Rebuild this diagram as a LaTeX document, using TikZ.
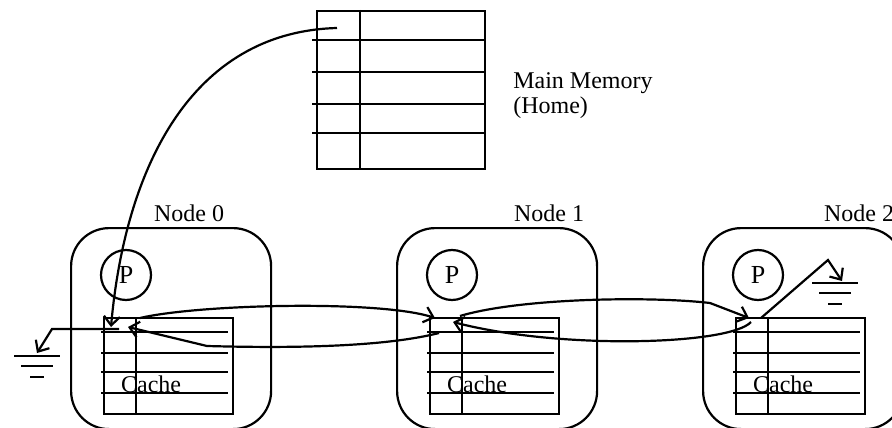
\documentclass[tikz,border=0pt]{standalone}
\usepackage{fontspec}
\setmainfont{Liberation Serif}
\usetikzlibrary{arrows.meta,positioning}

\tikzset{
  nodebox/.style={draw,rounded corners=38pt,minimum width=200pt,minimum height=201pt,anchor=north west},
  cachebox/.style={draw,minimum width=129pt,minimum height=96pt,anchor=north west},
  proc/.style={draw,circle,minimum size=50pt},
}

\begin{document}
\begin{tikzpicture}[x=1pt,y=-1pt,line width=2.2pt,
  every node/.style={inner sep=0pt,font=\fontsize{24}{25}\selectfont},
  >={Straight Barb[length=9pt,width=16pt]}]
	\useasboundingbox (0,0) rectangle (892,428);
	% main memory
	\node[draw,minimum width=168pt,minimum height=158pt,anchor=north west] (mem) at (316,10) {};
	\draw (360,10) -- (360,168);
	\foreach \y in {40,72,104,133}
		\draw (312,\y) -- (484,\y);
	\node[right=26pt of mem,yshift=-6pt,align=left] (memlbl) {Main Memory\\(Home)};
	% the three nodes
	\foreach \i/\x/\lx in {0/70/153,1/396/513,2/702/823} {
		\node[nodebox] (n\i) at (\x,227) {};
		\node[anchor=base west] (lbl\i) at (\lx,221) {Node \i};
		\node[proc] (p\i) at (\x+56,275) {\fontsize{26}{26}\selectfont P};
		\node[cachebox] (c\i) at (\x+33,317) {};
		\draw (c\i.north west) ++(33,0) -- ++(0,96);
		\foreach \y in {15,36,55,76}
			\draw ([xshift=-2pt]c\i.north west) ++(0,\y) -- ++(127,0);
		\node[anchor=base west] (t\i) at (\x+50,392) {Cache};
	}
	% grounds
	\coordinate (g0) at (37,356);
	\coordinate (g2) at (835,283);
	\foreach \g in {g0,g2}
		\foreach \w/\d in {23/0,16/10,7/21}
			\draw ([shift={(-\w,\d)}]\g) -- ([shift={(\w,\d)}]\g);
	\draw[->] ([shift={(16,12)}]c0.north west) -- (52,329) -- ([yshift=3pt]g0);
	\draw[->] ([shift={(26,1)}]c2.north west) -- (828,260) -- ([shift={(7,-2)}]g2);
	% home to node 0
	\draw[->] ([shift={(21,18)}]mem.north west) .. controls (190,32) and (125,170) .. ([shift={(8,10)}]c0.north west);
	% between the caches
	\draw[->] ([shift={(37,1)}]c0.north west) .. controls (200,304) and (380,300) .. ([shift={(6,1)}]c1.north west);
	\draw[->] ([shift={(10,16)}]c1.north west) .. controls (380,348) and (280,348) .. (207,346) -- ([shift={(25,10)}]c0.north west);
	\draw[->] ([shift={(31,-1)}]c1.north west) .. controls (520,298) and (650,296) .. (710,303) -- ([shift={(14,1)}]c2.north west);
	\draw[->] ([shift={(16,5)}]c2.north west) .. controls (730,345) and (560,350) .. ([shift={(24,5)}]c1.north west);
\end{tikzpicture}
\end{document}
